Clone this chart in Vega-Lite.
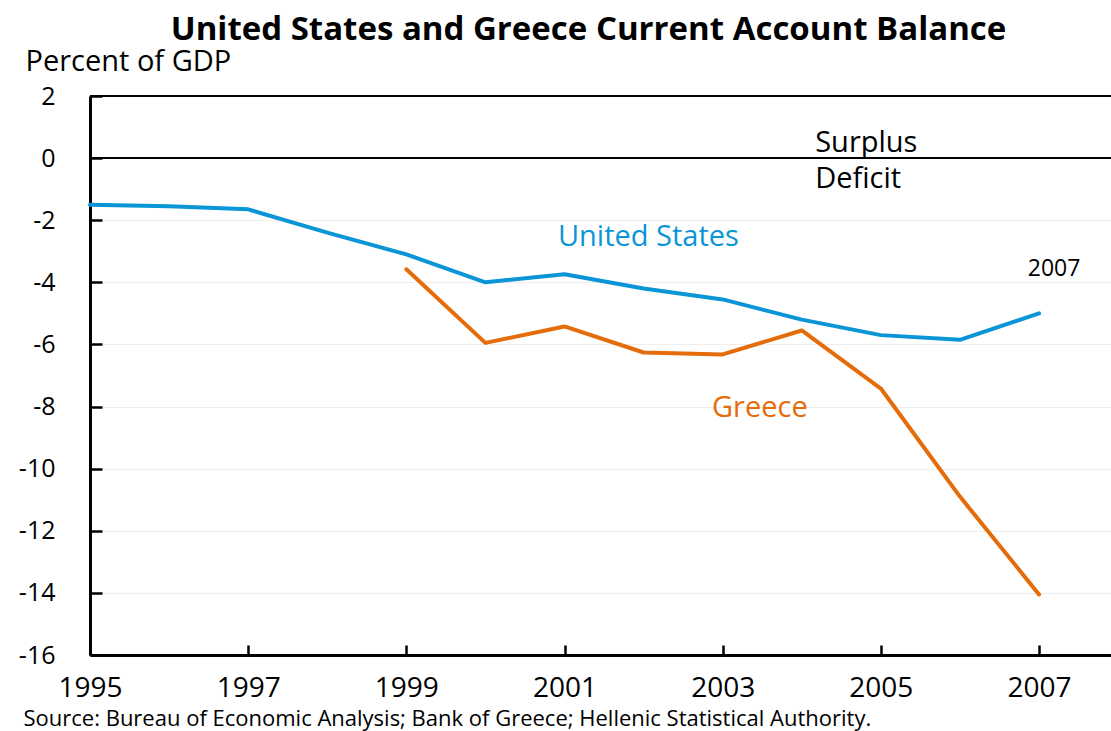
{
  "$schema": "https://vega.github.io/schema/vega-lite/v6.json",
  "autosize": "none",
  "width": 1021,
  "height": 559,
  "padding": {"left": 90, "top": 96, "right": 0, "bottom": 76},
  "background": "white",
  "config": {
    "font": "Open Sans",
    "view": {"stroke": null},
    "title": {"font": "Open Sans", "fontSize": 33, "fontWeight": "bold", "color": "black"}
  },
  "title": {"text": "United States and Greece Current Account Balance", "anchor": "middle", "dx": -12, "offset": 0},
  "datasets": {
    "series": [
      {"year": 1995, "country": "United States", "value": -1.5},
      {"year": 1996, "country": "United States", "value": -1.55},
      {"year": 1997, "country": "United States", "value": -1.65},
      {"year": 1998, "country": "United States", "value": -2.4},
      {"year": 1999, "country": "United States", "value": -3.1},
      {"year": 2000, "country": "United States", "value": -4.0},
      {"year": 2001, "country": "United States", "value": -3.74},
      {"year": 2002, "country": "United States", "value": -4.2},
      {"year": 2003, "country": "United States", "value": -4.55},
      {"year": 2004, "country": "United States", "value": -5.2},
      {"year": 2005, "country": "United States", "value": -5.7},
      {"year": 2006, "country": "United States", "value": -5.85},
      {"year": 2007, "country": "United States", "value": -5.0},
      {"year": 1999, "country": "Greece", "value": -3.58},
      {"year": 2000, "country": "Greece", "value": -5.95},
      {"year": 2001, "country": "Greece", "value": -5.42},
      {"year": 2002, "country": "Greece", "value": -6.26},
      {"year": 2003, "country": "Greece", "value": -6.32},
      {"year": 2004, "country": "Greece", "value": -5.55},
      {"year": 2005, "country": "Greece", "value": -7.42},
      {"year": 2006, "country": "Greece", "value": -10.9},
      {"year": 2007, "country": "Greece", "value": -14.05}
    ],
    "centerLabels": [
      {"year": 2002.06, "value": -2.84, "label": "United States", "color": "#0A96D6", "size": 29},
      {"year": 2003.47, "value": -8.35, "label": "Greece", "color": "#E46C0A", "size": 29},
      {"year": 2007.19, "value": -3.81, "label": "2007", "color": "black", "size": 23}
    ],
    "leftLabels": [
      {"year": 2004.17, "value": 0.19, "label": "Surplus"},
      {"year": 2004.17, "value": -0.97, "label": "Deficit"}
    ],
    "rules": [{"value": 0}, {"value": 2}]
  },
  "layer": [
    {
      "data": {"name": "rules"},
      "mark": {"type": "rule", "color": "black", "strokeWidth": 2},
      "encoding": {
        "y": {"field": "value", "type": "quantitative", "scale": {"domain": [-16, 2], "nice": false}}
      }
    },
    {
      "data": {"name": "series"},
      "mark": {"type": "line", "strokeWidth": 4, "strokeCap": "round", "strokeJoin": "round"},
      "encoding": {
        "x": {
          "field": "year", "type": "quantitative",
          "scale": {"domain": [1995, 2007.91], "nice": false, "zero": false},
          "axis": {
            "values": [1995, 1997, 1999, 2001, 2003, 2005, 2007],
            "format": "d",
            "labelFontSize": 28, "labelColor": "black", "labelFont": "Open Sans",
            "labelPadding": 29, "labelFlush": false,
            "tickSize": -10, "tickWidth": 2.5, "tickColor": "black",
            "domainColor": "black", "domainWidth": 3,
            "grid": false,
            "title": "Source: Bureau of Economic Analysis; Bank of Greece; Hellenic Statistical Authority.",
            "titleFont": "Open Sans", "titleFontSize": 22, "titleFontWeight": "normal", "titleColor": "black",
            "titleAnchor": "start", "titleAlign": "left", "titleBaseline": "alphabetic",
            "titleX": -67, "titleY": 70
          }
        },
        "y": {
          "field": "value", "type": "quantitative",
          "scale": {"domain": [-16, 2], "nice": false},
          "axis": {
            "values": [-16, -14, -12, -10, -8, -6, -4, -2, 0, 2],
            "labelExpr": "'' + datum.value",
            "labelFontSize": 25, "labelColor": "black", "labelFont": "Open Sans",
            "labelPadding": 47, "labelFlush": false,
            "tickSize": -12, "tickWidth": 2.5, "tickColor": "black",
            "domainColor": "black", "domainWidth": 3,
            "grid": true, "gridColor": "#eeeeee", "gridWidth": 1,
            "title": "Percent of GDP",
            "titleFont": "Open Sans", "titleFontSize": 29, "titleFontWeight": "normal", "titleColor": "black",
            "titleAngle": 0, "titleAlign": "left", "titleBaseline": "alphabetic",
            "titleX": -65, "titleY": -26
          }
        },
        "color": {
          "field": "country", "type": "nominal",
          "scale": {"domain": ["United States", "Greece"], "range": ["#0A96D6", "#E46C0A"]},
          "legend": null
        }
      }
    },
    {
      "data": {"name": "centerLabels"},
      "mark": {"type": "text", "baseline": "alphabetic", "align": "center", "font": "Open Sans"},
      "encoding": {
        "x": {"field": "year", "type": "quantitative"},
        "y": {"field": "value", "type": "quantitative"},
        "text": {"field": "label"},
        "color": {"field": "color", "type": "nominal", "scale": null},
        "size": {"field": "size", "type": "quantitative", "scale": null}
      }
    },
    {
      "data": {"name": "leftLabels"},
      "mark": {"type": "text", "baseline": "alphabetic", "align": "left", "font": "Open Sans", "fontSize": 29, "color": "black"},
      "encoding": {
        "x": {"field": "year", "type": "quantitative"},
        "y": {"field": "value", "type": "quantitative"},
        "text": {"field": "label"}
      }
    }
  ]
}
